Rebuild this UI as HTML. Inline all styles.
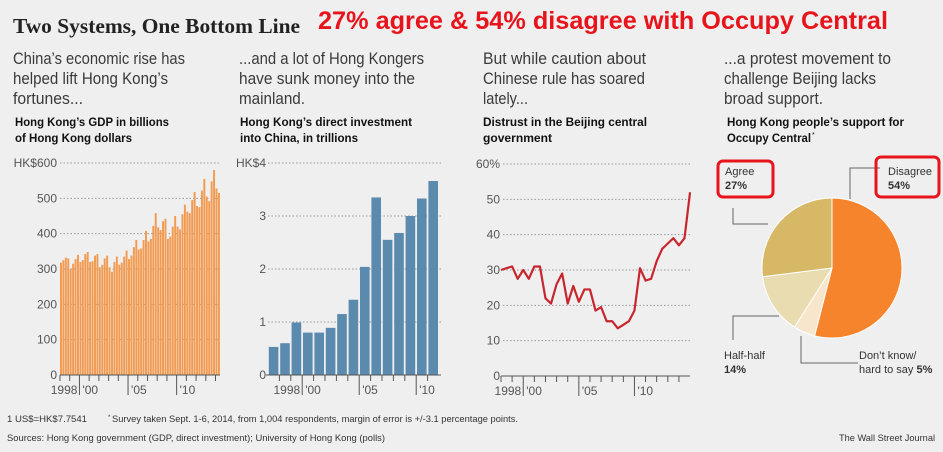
<!DOCTYPE html>
<html><head><meta charset="utf-8"><style>
body{margin:0;background:#efefef;}
svg{display:block;font-family:"Liberation Sans",sans-serif;}
.sub{font-size:17px;fill:#3a3a3a;}
.ct{font-size:12px;font-weight:bold;fill:#111;}
.tk{font-size:12px;fill:#555;}
.grid{stroke:#999;stroke-dasharray:1.5 2;stroke-width:1;}
.ax{stroke:#555;stroke-width:1;}
.ft{font-size:9.5px;fill:#333;}
</style></head><body>
<svg id="s" width="943" height="452">
<rect width="943" height="452" fill="#efefef"/>
<text x="13" y="33" font-family="Liberation Serif,serif" font-weight="bold" font-size="21" fill="#222" textLength="287" lengthAdjust="spacingAndGlyphs">Two Systems, One Bottom Line</text>
<text x="318" y="29" font-weight="bold" font-size="25" fill="#e8141c" textLength="570" lengthAdjust="spacingAndGlyphs">27% agree &amp; 54% disagree with Occupy Central</text>
<g class="sub"><text x="13" y="64" textLength="172" lengthAdjust="spacingAndGlyphs">China’s economic rise has</text><text x="13" y="84" textLength="155" lengthAdjust="spacingAndGlyphs">helped lift Hong Kong’s</text><text x="13" y="104" textLength="70" lengthAdjust="spacingAndGlyphs">fortunes...</text></g>
<g class="sub"><text x="239" y="64" textLength="185" lengthAdjust="spacingAndGlyphs">...and a lot of Hong Kongers</text><text x="239" y="84" textLength="176" lengthAdjust="spacingAndGlyphs">have sunk money into the</text><text x="239" y="104" textLength="66" lengthAdjust="spacingAndGlyphs">mainland.</text></g>
<g class="sub"><text x="483" y="64" textLength="163" lengthAdjust="spacingAndGlyphs">But while caution about</text><text x="483" y="84" textLength="162" lengthAdjust="spacingAndGlyphs">Chinese rule has soared</text><text x="483" y="104" textLength="45" lengthAdjust="spacingAndGlyphs">lately...</text></g>
<g class="sub"><text x="724" y="64" textLength="167" lengthAdjust="spacingAndGlyphs">...a protest movement to</text><text x="724" y="84" textLength="152" lengthAdjust="spacingAndGlyphs">challenge Beijing lacks</text><text x="724" y="104" textLength="99" lengthAdjust="spacingAndGlyphs">broad support.</text></g>
<g class="ct"><text x="15" y="126" textLength="154" lengthAdjust="spacingAndGlyphs">Hong Kong’s GDP in billions</text><text x="15" y="142" textLength="117" lengthAdjust="spacingAndGlyphs">of Hong Kong dollars</text></g>
<g class="ct"><text x="240" y="126" textLength="172" lengthAdjust="spacingAndGlyphs">Hong Kong’s direct investment</text><text x="240" y="142" textLength="118" lengthAdjust="spacingAndGlyphs">into China, in trillions</text></g>
<g class="ct"><text x="483" y="126" textLength="164" lengthAdjust="spacingAndGlyphs">Distrust in the Beijing central</text><text x="483" y="142" textLength="69" lengthAdjust="spacingAndGlyphs">government</text></g>
<g class="ct"><text x="727" y="126" textLength="177" lengthAdjust="spacingAndGlyphs">Hong Kong people’s support for</text><text x="727" y="142" textLength="84" lengthAdjust="spacingAndGlyphs">Occupy Central</text><text x="812" y="137" font-size="7" font-weight="normal">*</text></g>
<g id="c1"></g>
<g id="c2"></g>
<g id="c3"></g>
<g id="c4"></g>
<text x="7" y="422" class="ft" textLength="80" lengthAdjust="spacingAndGlyphs">1 US$=HK$7.7541</text>
<text x="108" y="419" font-size="6" fill="#333">*</text>
<text x="112" y="422" class="ft" textLength="406" lengthAdjust="spacingAndGlyphs">Survey taken Sept. 1-6, 2014, from 1,004 respondents, margin of error is +/-3.1 percentage points.</text>
<text x="7" y="441" class="ft" textLength="378" lengthAdjust="spacingAndGlyphs">Sources: Hong Kong government (GDP, direct investment); University of Hong Kong (polls)</text>
<text x="839" y="441" class="ft" textLength="96" lengthAdjust="spacingAndGlyphs">The Wall Street Journal</text>
</svg>
<script>
const gdpValues=[318,325,332,330,300,315,328,340,320,325,342,348,320,322,338,342,305,312,330,338,305,292,320,335,312,318,335,352,328,338,362,382,355,358,382,408,378,385,422,458,418,410,435,442,385,392,420,450,420,412,455,482,462,458,495,518,478,475,522,555,505,492,548,580,528,515];
const gdpTicks=[0,100,200,300,400,500,600];
const gdpTickLabels=["0","100","200","300","400","500","HK$600"];
const invYears=[1998,1999,2000,2001,2002,2003,2004,2005,2006,2007,2008,2009,2010,2011,2012];
const invValues=[0.53,0.6,0.99,0.8,0.8,0.89,1.15,1.42,2.04,3.35,2.55,2.68,3.0,3.33,3.66];
const invTicks=[0,1,2,3,4];
const invTickLabels=["0","1","2","3","HK$4"];
const distrustValues=[30,30.5,31,27.5,30,27.5,31,31,22,20.5,26,29,20.5,25.5,21,24.5,24.5,18.5,19.5,15.5,15.5,13.5,14.5,15.5,18.5,30.5,27,27.5,32.5,36,37.5,39,37,39,52];
const distrustTicks=[0,10,20,30,40,50,60];
const distrustTickLabels=["0","10","20","30","40","50","60%"];
const pieLabels=["Disagree","Don't know","Half-half","Agree"];
const pieValues=[54,5,14,27];
const pieColors=["#f5842c","#f8e6cc","#e9dcb0","#d6b866"];
const NS="http://www.w3.org/2000/svg";
function mk(p,t,a){const e=document.createElementNS(NS,t);for(const k in a)e.setAttribute(k,a[k]);p.appendChild(e);return e;}
function axisX(g,x0,perYear,y0,maxYear){
  for(let y=1998;y<=maxYear;y++){const x=x0+(y-1998)*perYear;const long=(y==2000||y==2005||y==2010);
    const t=mk(g,'line',{x1:x,x2:x,y1:y0,y2:y0+(long?20:6),class:'ax'});
    }
  const l=[["1998",2000,-2,"end"],["'00",2000,3,"start"],["'05",2005,3,"start"],["'10",2010,3,"start"]];
  l.forEach(d=>{const t=mk(g,'text',{x:x0+(d[1]-1998)*perYear+d[2],y:y0+19,class:'tk','text-anchor':d[3]});t.textContent=d[0];
    });
}
function axisY(g,ticks,labels,sy,xl,x1,x2){
  ticks.forEach((v,i)=>{const y=sy(v);
    if(v>0){const l=mk(g,'line',{x1:x1,x2:x2,y1:y,y2:y,class:'grid'});}
    const t=mk(g,'text',{x:xl,y:y+4,class:'tk','text-anchor':'end'});t.textContent=labels[i];
    });
}
// chart 1
(function(){const g=document.getElementById('c1');const y0=375,sy=v=>y0-v*(212/600);const x0=60,pq=9.72/4;
  axisY(g,gdpTicks,gdpTickLabels,sy,57,60,220);
  gdpValues.forEach((v,i)=>{const r=mk(g,'rect',{x:x0+i*pq,y:sy(v),width:pq-0.5,height:y0-sy(v),fill:'#f29a50'});
    });
  mk(g,'line',{x1:60,x2:220,y1:y0,y2:y0,class:'ax'});axisX(g,x0,9.72,y0,2014);})();
// chart 2
(function(){const g=document.getElementById('c2');const y0=375,sy=v=>y0-v*53;const x0=268,slot=11.4;
  axisY(g,invTicks,invTickLabels,sy,266,268,441);
  invValues.forEach((v,i)=>{const r=mk(g,'rect',{x:x0+(invYears[i]-1998)*slot+0.8,y:sy(v),width:slot-1.8,height:y0-sy(v),fill:'#5a8aae'});
    });
  mk(g,'line',{x1:266,x2:441,y1:y0,y2:y0,class:'ax'});axisX(g,x0+slot,slot,y0,2011);})();
// chart 3
(function(){const g=document.getElementById('c3');const y0=376,sy=v=>y0-v*(212/60);const x0=501,ph=5.56;
  axisY(g,distrustTicks,distrustTickLabels,sy,500,503,690);
  mk(g,'line',{x1:501,x2:690,y1:y0,y2:y0,class:'ax'});axisX(g,x0,ph*2,y0,2014);
  const p=mk(g,'polyline',{points:distrustValues.map((v,i)=>(x0+i*ph)+','+sy(v)).join(' '),fill:'none',stroke:'#c8262e','stroke-width':2.2,'stroke-linejoin':'round'});
  })();
// pie
(function(){const g=document.getElementById('c4');const cx=832,cy=268,r=70;let a0=0;const tot=pieValues.reduce((a,b)=>a+b,0);
  pieValues.forEach((v,i)=>{const a1=a0+v/tot*2*Math.PI;
    const x1=cx+r*Math.sin(a0),y1=cy-r*Math.cos(a0),x2=cx+r*Math.sin(a1),y2=cy-r*Math.cos(a1);
    const s=mk(g,'path',{d:`M${cx},${cy}L${x1},${y1}A${r},${r} 0 ${(a1-a0)>Math.PI?1:0} 1 ${x2},${y2}Z`,fill:pieColors[i],stroke:'#fff','stroke-width':1});
    a0=a1;});
  const L=(pts)=>{const l=mk(g,'polyline',{points:pts,fill:'none',stroke:'#666','stroke-width':1});};
  L("850,199 850,168 880,168");L("733,208 733,224 768,224");L("733,340 733,316 779,316");L("801,336 801,363 858,363");
  const T=(x,y,a,n)=>{const t=mk(g,'text',{x:x,y:y,'font-size':11,fill:'#333'});t.innerHTML=a;return t;};
  T(725,175,'Agree','label-agree');T(725,189,'<tspan font-weight="bold">'+pieValues[3]+'%</tspan>','value-agree');
  T(888,175,'Disagree','label-disagree');T(888,189,'<tspan font-weight="bold">'+pieValues[0]+'%</tspan>','value-disagree');
  T(724,359,'Half-half','label-half-half');T(724,373,'<tspan font-weight="bold">'+pieValues[2]+'%</tspan>','value-half-half');
  T(859,359,"Don’t know/",'label-dont-know');T(859,373,'hard to say <tspan font-weight="bold">'+pieValues[1]+'%</tspan>','value-dont-know');
  mk(g,'rect',{x:718,y:161,width:55,height:36,rx:5,fill:'none',stroke:'#e8141c','stroke-width':3,});
  mk(g,'rect',{x:876,y:157,width:63,height:40,rx:5,fill:'none',stroke:'#e8141c','stroke-width':3,});
})();
</script>
</body></html>
